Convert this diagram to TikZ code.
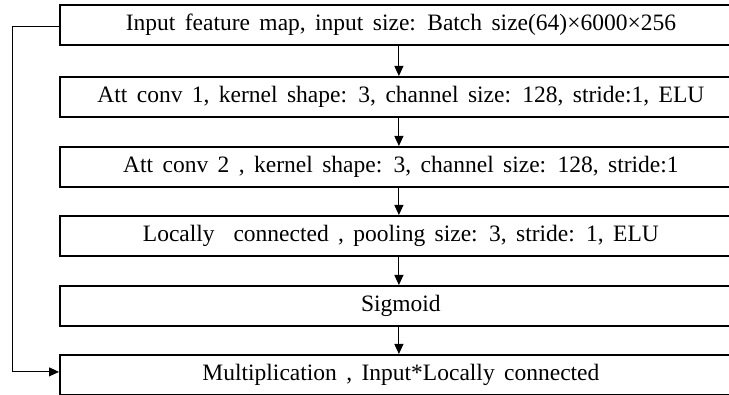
\documentclass[tikz,border=0pt]{standalone}
\usepackage{fontspec}
\setmainfont[WordSpace=1.6]{Liberation Serif}
\usetikzlibrary{arrows.meta,calc}
\begin{document}
\begin{tikzpicture}[x=1pt,y=-1pt,
  layerbox/.style={draw, line width=1.8pt, anchor=north west, minimum width=682pt,
    minimum height=40pt, inner sep=0pt, font=\fontsize{23.5}{28}\selectfont},
  flow/.style={line width=0.9pt, -{Triangle[length=10pt,width=9pt]}}]
  \useasboundingbox (0,0) rectangle (729,395);
  \clip (0,0) rectangle (729,395);
  \node[layerbox] (in)  at (59,4)   {Input\ feature map, input size: Batch size(64)×6000×256};
  \node[layerbox] (c1)  at (59,76)  {Att conv 1, kernel shape: 3, channel size: 128, stride:1, ELU};
  \node[layerbox] (c2)  at (59,146) {Att conv 2 , kernel shape: 3, channel size: 128, stride:1};
  \node[layerbox] (lc)  at (59,215) {Locally\ \ connected , pooling size: 3, stride: 1, ELU};
  \node[layerbox] (sg)  at (59,285) {Sigmoid};
  \node[layerbox] (mul) at (59,354) {Multiplication , Input*Locally\ connected};
  \foreach \a/\b in {in/c1, c1/c2, c2/lc, lc/sg, sg/mul}
    \draw[flow] ([xshift=-2pt]\a.south) -- ([xshift=-2pt]\b.north);
  % skip connection from the input map to the multiplication
  \coordinate (skip) at (12,0);
  \draw[flow] ([yshift=-1.5pt]in.west) -- ([yshift=-1.5pt]in.west -| skip) |- ([yshift=3pt]mul.west);
\end{tikzpicture}
\end{document}
